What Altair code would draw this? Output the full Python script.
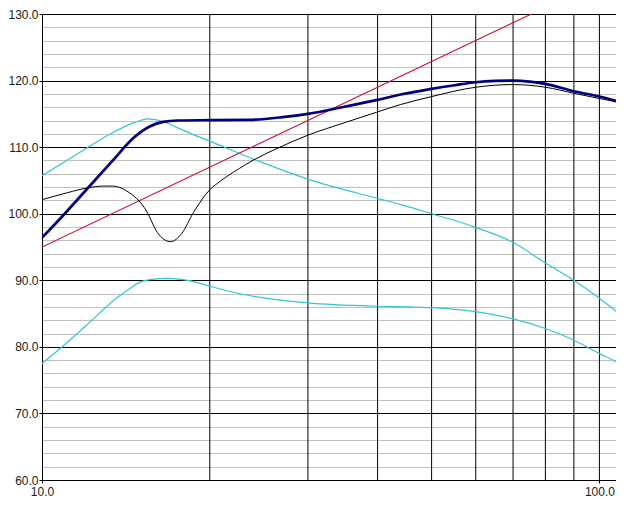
import altair as alt
import pandas as pd

# ---- data ----
navy_f = [10, 10.9, 12.1, 13.4, 14.6, 15.6, 16.5, 17.5, 20, 23.6, 27, 30, 35, 40, 44, 50, 55, 60, 65, 70, 75, 80, 90, 100, 110.6]
navy_v = [96.4, 99.7, 103.9, 108.0, 111.4, 113.1, 113.8, 114.0, 114.05, 114.1, 114.5, 115.0, 116.1, 117.1, 117.9, 118.75, 119.3, 119.75, 119.95, 120.0, 119.85, 119.5, 118.4, 117.6, 116.6]

black_f = [10, 11.1, 12.1, 12.9, 13.4, 14.2, 15.4, 16.1, 17.0, 17.8, 18.7, 20, 20.9, 22.6, 24, 26.4, 30, 35, 40, 44, 50, 60, 70, 80, 90, 100, 110.6]
black_v = [102.1, 103.15, 103.9, 104.15, 104.15, 103.4, 100.4, 97.2, 95.8, 97.0, 100.2, 103.6, 104.9, 106.8, 108.1, 109.8, 111.8, 113.7, 115.3, 116.4, 117.6, 119.0, 119.4, 119.0, 118.1, 117.3, 116.6]

cyan_hi_f = [10, 12.0, 13.2, 14.6, 15.5, 16.5, 17.3, 18.2, 20, 25, 30, 40, 43.9, 50, 60, 70, 80, 90, 100, 110.6]
cyan_hi_v = [105.7, 109.8, 111.9, 113.65, 114.25, 113.85, 113.1, 112.3, 110.9, 107.6, 105.2, 102.3, 101.4, 100.0, 97.95, 95.7, 92.6, 90.0, 87.3, 84.4]

cyan_lo_f = [10, 10.9, 12, 13.6, 14.4, 14.8, 15.6, 16.8, 18.5, 20, 22.9, 30, 40, 45.7, 50, 60, 70, 80, 90, 100, 110.6]
cyan_lo_v = [77.5, 80.1, 83.2, 87.3, 88.8, 89.5, 90.1, 90.3, 89.9, 89.1, 87.9, 86.6, 86.1, 86.0, 85.9, 85.3, 84.2, 82.75, 81.0, 79.0, 77.25]

red_f = [10, 75.5]
red_v = [95.0, 130.0]

x_ticks = [10, 20, 30, 40, 50, 60, 70, 80, 90, 100]
y_ticks = list(range(60, 131, 2))

series = [
    ("cyan_lo", cyan_lo_f, cyan_lo_v),
    ("cyan_hi", cyan_hi_f, cyan_hi_v),
    ("red", red_f, red_v),
    ("black", black_f, black_v),
    ("navy", navy_f, navy_v),
]
rows = []
for name, fs, vs in series:
    for i, (f, v) in enumerate(zip(fs, vs)):
        rows.append({"series": name, "f": f, "v": v, "i": i})
df = pd.DataFrame(rows)
grid_df = pd.DataFrame({"f": x_ticks[1:]})

styles = {
    "cyan_lo": ("#33c6d6", 1.2),
    "cyan_hi": ("#33c6d6", 1.2),
    "red": ("#cc1133", 1.1),
    "black": ("#000000", 1.0),
    "navy": ("#000080", 2.7),
}

LABEL_FONT = "Liberation Sans"
FS = 12

x_scale = alt.Scale(type="log", domain=[10, 107.1], nice=False)
y_scale = alt.Scale(domain=[60, 130], nice=False, zero=False)

x_enc = alt.X(
    "f:Q",
    scale=x_scale,
    axis=alt.Axis(
        values=x_ticks,
        title=None,
        grid=False,
        labelExpr="(datum.value == 10 || datum.value == 100) ? format(datum.value, '.1f') : ''",
        labelFlush=False,
        labelOverlap=False,
        labelFont=LABEL_FONT,
        labelFontSize=FS,
        labelColor="#1a1a1a",
        labelPadding=3,
        tickSize=3,
        tickColor="#000000",
        tickOpacity=alt.condition("datum.value == 10 || datum.value == 100", alt.value(1), alt.value(0)),
        domainColor="#000000",
    ),
)
y_enc = alt.Y(
    "v:Q",
    scale=y_scale,
    axis=alt.Axis(
        values=y_ticks,
        title=None,
        grid=True,
        gridColor=alt.condition("datum.value % 10 == 0", alt.value("#000000"), alt.value("#c0c0c0")),
        gridWidth=1,
        labelExpr="datum.value % 10 == 0 ? format(datum.value, '.1f') : ''",
        labelOverlap=False,
        labelBound=False,
        labelFont=LABEL_FONT,
        labelFontSize=FS,
        labelColor="#1a1a1a",
        labelPadding=1,
        tickSize=3,
        tickColor="#000000",
        tickOpacity=alt.condition("datum.value % 10 == 0", alt.value(1), alt.value(0)),
        domainColor="#000000",
    ),
)

# vertical grid lines at the decade sub-divisions (drawn above the horizontal grid)
vgrid = (
    alt.Chart(grid_df)
    .mark_rule(color="#000000", strokeWidth=1)
    .encode(x=alt.X("f:Q", scale=x_scale))
)

layers = [vgrid]
for name, _, _ in series:
    color, width = styles[name]
    layers.append(
        alt.Chart(df)
        .transform_filter(alt.datum.series == name)
        .mark_line(color=color, strokeWidth=width, interpolate="monotone", clip=True,
                   strokeCap="round", strokeJoin="round")
        .encode(x=x_enc, y=y_enc, order="i:Q")
    )

chart = (
    alt.layer(*layers)
    .properties(
        width=574,
        height=466,
        autosize=alt.AutoSizeParams(type="none"),
        padding={"left": 34, "top": 6, "right": 0, "bottom": 18},
        background="#ffffff",
    )
    .configure_view(stroke=None)
)

chart.save("out.html", embed_options={"renderer": "svg", "actions": False})
